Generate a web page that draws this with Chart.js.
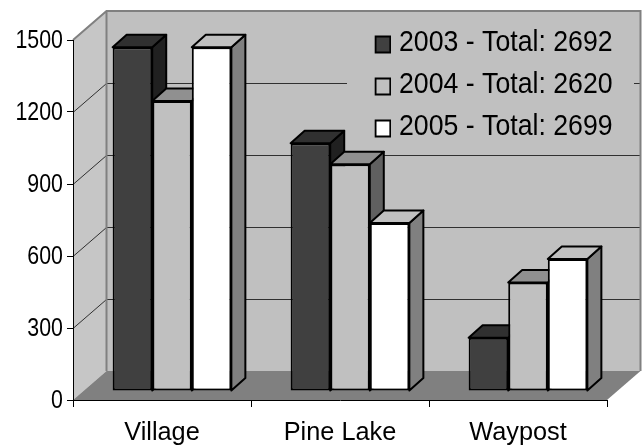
<!DOCTYPE html>
<html>
<head>
<meta charset="utf-8">
<style>html,body{margin:0;padding:0;background:#fff}canvas{display:block}</style>
<script src="https://cdn.jsdelivr.net/npm/chart.js@4"></script>
</head>
<body>
<canvas id="c" width="644" height="445"></canvas>
<script>
const categories = ['Village', 'Pine Lake', 'Waypost'];
const years = ['2003', '2004', '2005'];
const totals = [2692, 2620, 2699];
const values2003 = [1432, 1032, 222];
const values2004 = [1208, 945, 452];
const values2005 = [1432, 700, 550];
const frontColors = ['#404040', '#c0c0c0', '#ffffff'];
const topColors = ['#303030', '#909090', '#c0c0c0'];
const sideColors = ['#202020', '#606060', '#808080'];
const yTicks = [0, 300, 600, 900, 1200, 1500];

const WALL_DX = 33.5, WALL_DY = -29;
const BAR_DX = 10, BAR_DY = -9;
const DEPTH_X = 14, DEPTH_Y = -12.5;
const LEGEND_SX = 0.92, LEGEND_ANCHOR = 399;
const TICK_SX = 0.82, TICK_ANCHOR = 62.5;

function poly(ctx, pts, fill, stroke, lw) {
  ctx.beginPath();
  pts.forEach((p, i) => i ? ctx.lineTo(p[0], p[1]) : ctx.moveTo(p[0], p[1]));
  ctx.closePath();
  if (fill) { ctx.fillStyle = fill; ctx.fill(); }
  if (stroke) { ctx.strokeStyle = stroke; ctx.lineWidth = lw; ctx.lineJoin = 'round'; ctx.stroke(); }
}

function squeeze(ctx, anchor, sx, dy, fn) {
  ctx.save();
  ctx.translate(anchor, dy);
  ctx.scale(sx, 1);
  ctx.translate(-anchor, 0);
  fn();
  ctx.restore();
}

const scene = {
  id: 'scene',
  afterLayout(chart) {
    const lg = chart.legend;
    lg.left = 363.5; lg.top = 15; lg.right = 680; lg.bottom = 160;
    if (!lg._wrapped) {
      lg._wrapped = true;
      const d = lg.draw;
      lg.draw = function () { squeeze(chart.ctx, LEGEND_ANCHOR, LEGEND_SX, 0, () => d.call(lg)); };
      const ys = chart.scales.y, dl = ys.drawLabels;
      ys.drawLabels = function (a) { squeeze(chart.ctx, TICK_ANCHOR, TICK_SX, 1, () => dl.call(ys, a)); };
    }
  },
  beforeDraw(chart) {
    const ctx = chart.ctx, a = chart.chartArea, y = chart.scales.y;
    const l = a.left, r = a.right, t = a.top, b = a.bottom;
    ctx.save();
    poly(ctx, [[l, t], [l + WALL_DX, t + WALL_DY], [l + WALL_DX, b + WALL_DY], [l, b]], '#c6c6c6');
    poly(ctx, [[l + WALL_DX, t + WALL_DY], [r + WALL_DX, t + WALL_DY], [r + WALL_DX, b + WALL_DY], [l + WALL_DX, b + WALL_DY]], '#c0c0c0');
    poly(ctx, [[l, b], [l + WALL_DX, b + WALL_DY], [r + WALL_DX, b + WALL_DY], [r, b]], '#808080');
    ctx.strokeStyle = '#303030';
    ctx.lineWidth = 1;
    yTicks.slice(1, 5).forEach(v => {
      const py = Math.round(y.getPixelForValue(v)) + 0.5;
      ctx.beginPath();
      ctx.moveTo(l, py);
      ctx.lineTo(l + WALL_DX, py + WALL_DY);
      ctx.lineTo(r + WALL_DX, py + WALL_DY);
      ctx.stroke();
    });
    ctx.fillStyle = '#c0c0c0';
    ctx.fillRect(347, 18, 287, 135);
    ctx.strokeStyle = '#808080';
    ctx.lineWidth = 2;
    ctx.beginPath();
    ctx.moveTo(l, t);
    ctx.lineTo(l + WALL_DX, t + WALL_DY);
    ctx.lineTo(r + WALL_DX, t + WALL_DY);
    ctx.lineTo(r + WALL_DX, b + WALL_DY);
    ctx.moveTo(l + WALL_DX, t + WALL_DY);
    ctx.lineTo(l + WALL_DX, b + WALL_DY);
    ctx.stroke();
    ctx.restore();
  },
  beforeDatasetsDraw(chart) {
    const ctx = chart.ctx;
    ctx.save();
    ctx.translate(BAR_DX, BAR_DY);
    for (let i = 0; i < years.length; i++) {
      chart.getDatasetMeta(i).data.forEach(bar => {
        const p = bar.getProps(['x', 'y', 'base', 'width'], true);
        const x0 = p.x - p.width / 2, x1 = p.x + p.width / 2;
        poly(ctx, [[x1, p.y], [x1 + DEPTH_X, p.y + DEPTH_Y], [x1 + DEPTH_X, p.base + DEPTH_Y], [x1, p.base]], sideColors[i], '#000', 2);
        poly(ctx, [[x0, p.y], [x0 + DEPTH_X, p.y + DEPTH_Y], [x1 + DEPTH_X, p.y + DEPTH_Y], [x1, p.y]], topColors[i], '#000', 2);
      });
    }
    ctx.restore();
  },
  beforeDatasetDraw(chart) {
    chart.ctx.save();
    chart.ctx.translate(BAR_DX, BAR_DY);
  },
  afterDatasetDraw(chart) {
    chart.ctx.restore();
  }
};

function marker(i) {
  const m = document.createElement('canvas');
  m.width = 20; m.height = 24;
  const g = m.getContext('2d');
  g.fillStyle = frontColors[i];
  g.fillRect(3, 6, 16, 16);
  g.strokeStyle = '#000';
  g.lineWidth = 2;
  g.strokeRect(3, 6, 16, 16);
  return m;
}

const series = [values2003, values2004, values2005];

new Chart(document.getElementById('c'), {
  type: 'bar',
  plugins: [scene],
  data: {
    labels: categories,
    datasets: years.map((yr, i) => ({
      label: yr + ' - Total: ' + totals[i],
      data: series[i],
      backgroundColor: frontColors[i],
      borderColor: '#000',
      borderWidth: 2,
      borderSkipped: false,
      clip: false,
      categoryPercentage: 0.667,
      barPercentage: 1
    }))
  },
  options: {
    responsive: false,
    animation: false,
    layout: { padding: { top: 40, right: 37, left: 0, bottom: 0 } },
    plugins: {
      tooltip: { enabled: false },
      legend: {
        position: 'chartArea',
        align: 'start',
        labels: {
          usePointStyle: true,
          boxWidth: 8,
          padding: 13,
          color: '#000',
          font: { family: '"Liberation Sans",Arial,sans-serif', size: 29 },
          generateLabels: () => years.map((yr, i) => ({
            text: yr + ' - Total: ' + totals[i],
            pointStyle: marker(i),
            fontColor: '#000',
            datasetIndex: i,
            hidden: false
          }))
        }
      }
    },
    scales: {
      x: {
        offset: true,
        afterFit(s) { s.height = 45; },
        grid: { display: true, drawOnChartArea: false, drawTicks: true, tickLength: 7, color: '#000', lineWidth: 1, offset: true },
        border: { color: '#000', width: 1 },
        ticks: { color: '#000', padding: 11, maxRotation: 0, font: { family: '"Liberation Sans",Arial,sans-serif', size: 25.3 } }
      },
      y: {
        min: 0, max: 1500,
        afterFit(s) { s.width = 73; },
        afterBuildTicks(s) { s.ticks = yTicks.map(v => ({ value: v })); },
        grid: { display: true, drawOnChartArea: false, drawTicks: true, tickLength: 6, color: '#000', lineWidth: 1 },
        border: { color: '#000', width: 1 },
        ticks: { color: '#000', padding: 4, callback: v => String(v), font: { family: '"Liberation Sans",Arial,sans-serif', size: 26 } }
      }
    }
  }
});
</script>
</body>
</html>
